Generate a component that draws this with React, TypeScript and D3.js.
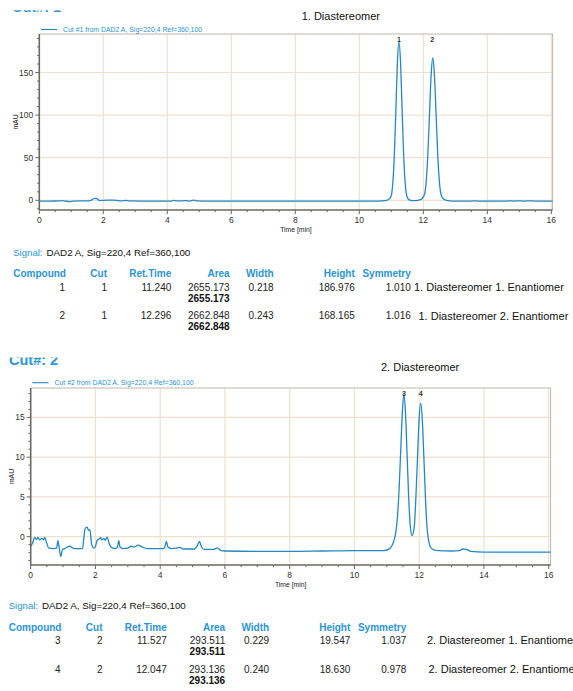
import * as d3 from "d3";

// chromatogram traces (time in min, signal in mAU)
const cut1Time = [
  0, 0.3, 0.6, 0.7, 0.8, 0.95, 1.05, 1.3, 1.55, 1.65, 1.72, 1.8, 1.88, 2.0, 2.15, 2.3, 2.42, 2.55, 2.72, 2.8,
  3.2, 3.6, 4.1, 4.2, 4.3, 4.45, 4.6, 4.7, 4.82, 4.95, 5.1, 6, 7, 8, 9, 10, 10.6,
  10.8, 10.9, 10.99, 11.04, 11.09, 11.14, 11.19, 11.24, 11.29, 11.34, 11.39, 11.44, 11.49, 11.55, 11.65, 11.75,
  11.85, 11.95, 12.0, 12.046, 12.096, 12.146, 12.196, 12.246, 12.296, 12.346, 12.396, 12.446, 12.496, 12.546,
  12.6, 12.7, 12.85, 13.0, 13.5, 13.6, 13.7, 14.6, 14.7, 14.8, 15.0, 15.1, 15.4, 15.5, 16.04,
];
const cut1Signal = [
  -0.9, -0.9, -0.8, -0.4, -0.9, -1.5, -0.9, -0.7, -0.8, 0.6, 2.3, 2.0, -0.3, 0.0, 0.2, 0.3, 0.0, -0.8, -0.1, -0.8,
  -0.9, -0.9, -0.9, -0.2, -0.8, -0.6, -0.3, -0.9, 0.1, -0.8, -0.9, -0.9, -0.9, -0.9, -0.9, -0.9, -0.9,
  -0.5, 0.6, 4.5, 17, 49, 103, 161, 186, 161, 103, 49, 17, 4.5, 0.8, -0.4, -0.5,
  0.2, 1.6, 4.0, 8.0, 24.8, 57.5, 104, 148, 167, 148, 104, 57.5, 24.8, 8.0,
  2.8, 0.2, -0.7, -0.9, -0.9, -0.6, -0.9, -0.9, -0.6, -0.9, -0.6, -0.9, -0.7, -0.9, -0.9,
];

const cut2Time = [
  0, 0.06, 0.12, 0.18, 0.22, 0.28, 0.34, 0.4, 0.43, 0.5, 0.56, 0.7, 0.8, 0.84, 0.88, 0.93, 0.98, 1.05, 1.2, 1.35,
  1.6, 1.64, 1.68, 1.74, 1.79, 1.83, 1.88, 1.95, 2.0, 2.06, 2.12, 2.16, 2.2, 2.26, 2.3, 2.36, 2.42, 2.48, 2.6, 2.68,
  2.72, 2.76, 2.85, 3.0, 3.1, 3.2, 3.32, 3.45, 3.6, 4.1, 4.15, 4.19, 4.24, 4.35, 4.5, 4.6, 4.72, 5.05, 5.15, 5.21,
  5.28, 5.35, 5.65, 5.76, 5.88, 6.0, 7.0, 8.0, 9.0, 10.0, 10.9,
  11.05, 11.15, 11.22, 11.28, 11.33, 11.38, 11.43, 11.48, 11.527, 11.577, 11.627, 11.677, 11.727, 11.78,
  11.847, 11.897, 11.947, 11.997, 12.047, 12.097, 12.147, 12.197, 12.247, 12.297, 12.347, 12.45, 12.6,
  13.0, 13.25, 13.35, 13.45, 13.6, 14.0, 15.0, 16.06,
];
const cut2Signal = [
  -1.2, -0.8, -0.1, -0.35, -0.1, -0.4, -0.2, -0.4, -0.1, -0.9, -1.45, -1.5, -1.45, -0.5, -1.4, -2.5, -1.6, -1.5, -1.2, -1.5,
  -1.5, -0.2, 1.0, 1.2, 0.8, 0.9, -0.9, -1.45, -1.2, -0.4, -0.3, -0.1, -0.4, -0.2, -0.45, -0.05, -0.8, -1.3, -1.5, -1.3,
  -0.5, -1.3, -1.5, -1.45, -1.2, -1.3, -1.05, -1.3, -1.5, -1.5, -1.2, -0.6, -1.3, -1.5, -1.45, -1.35, -1.55, -1.55, -1.1, -0.6,
  -1.3, -1.6, -1.6, -1.4, -1.75, -1.8, -1.85, -1.85, -1.8, -1.75, -1.75,
  -1.6, -1.2, -0.5, 0.6, 2.5, 6.0, 10.8, 15.6, 17.85, 15.6, 10.3, 4.8, 1.3, 0.15,
  1.2, 4.8, 9.8, 14.7, 16.8, 14.7, 9.8, 4.6, 1.0, -0.6, -1.3, -1.65, -1.75,
  -1.8, -1.75, -1.55, -1.6, -1.85, -1.95, -1.95, -1.95,
];

const cut1Peaks = ["1", "2"];
const cut1PeakTimes = [11.24, 12.28];
const cut2Peaks = ["3", "4"];
const cut2PeakTimes = [11.527, 12.047];

const xTicks = [0, 2, 4, 6, 8, 10, 12, 14, 16];
const cut1YTicks = [0, 50, 100, 150];
const cut2YTicks = [0, 5, 10, 15];

const headers = ["Compound", "Cut", "Ret.Time", "Area", "Width", "Height", "Symmetry"];

const compounds1 = ["1", "2"];
const cuts1 = ["1", "1"];
const retTimes1 = ["11.240", "12.296"];
const areas1 = ["2655.173", "2662.848"];
const widths1 = ["0.218", "0.243"];
const heights1 = ["186.976", "168.165"];
const symmetries1 = ["1.010", "1.016"];
const descriptions1 = ["1. Diastereomer 1. Enantiomer", "1. Diastereomer 2. Enantiomer"];

const compounds2 = ["3", "4"];
const cuts2 = ["2", "2"];
const retTimes2 = ["11.527", "12.047"];
const areas2 = ["293.511", "293.136"];
const widths2 = ["0.229", "0.240"];
const heights2 = ["19.547", "18.630"];
const symmetries2 = ["1.037", "0.978"];
const descriptions2 = ["2. Diastereomer 1. Enantiomer", "2. Diastereomer 2. Enantiomer"];

const FONT = "Liberation Sans, Arial, sans-serif";
const BLUE = "#2b95d6";
const TRACE = "#2389c2";
const GRID = "#f0e1cf";
const AXIS = "#6e675f";
const FRAME = "#bdb7b0";

type ChromProps = {
  times: number[];
  signal: number[];
  xRange: [number, number];
  xMax: number;
  yDomain: [number, number];
  yRange: [number, number];
  yTicks: number[];
  yMinor: number;
  peaks: string[];
  peakTimes: number[];
  legend: string;
  legendY: number;
  legendX: number;
  mauX: number;
};

function Chromatogram(p: ChromProps) {
  const x = d3.scaleLinear().domain([0, p.xMax]).range(p.xRange);
  const y = d3.scaleLinear().domain(p.yDomain).range(p.yRange);
  const [x0, x1] = p.xRange;
  const [yb, yt] = p.yRange;
  const pts = p.times.map((t, i) => [t, p.signal[i]] as [number, number]);
  const line = d3
    .line<[number, number]>()
    .x((d) => x(d[0]))
    .y((d) => y(d[1]))
    .curve(d3.curveMonotoneX);

  const xMinor = d3.range(0, p.xMax, 0.5);
  const yMinor = d3.range(Math.ceil(p.yDomain[0] / p.yMinor) * p.yMinor, p.yDomain[1], p.yMinor);

  return (
    <g fontFamily={FONT}>
      {/* gridlines */}
      {xTicks.filter((t) => t > 0).map((t) => (
        <line key={"gx" + t} x1={x(t)} x2={x(t)} y1={yt} y2={yb} stroke={GRID} strokeWidth={1.2} />
      ))}
      {p.yTicks.map((t) => (
        <line key={"gy" + t} x1={x0} x2={x1} y1={y(t)} y2={y(t)} stroke={GRID} strokeWidth={1.2} />
      ))}
      {/* frame */}
      <line x1={x0} x2={x1} y1={yt} y2={yt} stroke={FRAME} strokeWidth={1} />
      <line x1={x1} x2={x1} y1={yt} y2={yb} stroke={FRAME} strokeWidth={1} />
      {/* trace */}
      <path d={line(pts) ?? ""} fill="none" stroke={TRACE} strokeWidth={1.3} strokeLinejoin="round" />
      {/* axes */}
      <line x1={x0} x2={x0} y1={yt} y2={yb} stroke={AXIS} strokeWidth={1.6} />
      <line x1={x0} x2={x1} y1={yb} y2={yb} stroke={AXIS} strokeWidth={1.6} />
      {xMinor.map((t) => (
        <line key={"mx" + t} x1={x(t)} x2={x(t)} y1={yb} y2={yb + (t % 2 === 0 ? 4 : 2.2)} stroke={AXIS} strokeWidth={1} />
      ))}
      {yMinor.map((t) => (
        <line key={"my" + t} x1={x0 - (p.yTicks.includes(t) ? 4 : 2.2)} x2={x0} y1={y(t)} y2={y(t)} stroke={AXIS} strokeWidth={1} />
      ))}
      {xTicks.map((t) => (
        <text key={"tx" + t} x={x(t)} y={yb + 13} fontSize={8.5} textAnchor="middle" fill="#333">
          {t}
        </text>
      ))}
      {p.yTicks.map((t) => (
        <text key={"ty" + t} x={x0 - 6} y={y(t) + 3} fontSize={8.5} textAnchor="end" fill="#333">
          {t}
        </text>
      ))}
      <text x={(x0 + x1) / 2} y={yb + 21.5} fontSize={6.8} textAnchor="middle" fill="#222">
        Time [min]
      </text>
      <text
        transform={`translate(${p.mauX},${(yt + yb) / 2}) rotate(-90)`}
        fontSize={6.8}
        textAnchor="middle"
        fill="#222"
      >
        mAU
      </text>
      {/* peak labels */}
      {p.peaks.map((lab, i) => (
        <text key={"pk" + lab} x={x(p.peakTimes[i])} y={yt + 8} fontSize={7} fontWeight="bold" textAnchor="middle" fill="#333">
          {lab}
        </text>
      ))}
      {/* legend */}
      <line x1={p.legendX} x2={p.legendX + 16} y1={p.legendY} y2={p.legendY} stroke={TRACE} strokeWidth={1.1} />
      <text x={p.legendX + 22} y={p.legendY + 2.4} fontSize={6.9} fill={BLUE}>
        {p.legend}
      </text>
    </g>
  );
}

type TableProps = {
  dx: number;
  top: number;
  compounds: string[];
  cuts: string[];
  retTimes: string[];
  areas: string[];
  widths: string[];
  heights: string[];
  symmetries: string[];
  descriptions: string[];
  descX: number[];
};

// right edges of the table columns
const colRight = [65, 107, 171.3, 229.7, 273.6, 354.8, 410.8];

function ResultTable(t: TableProps) {
  const rowY = [t.top + 38.4, t.top + 66.9];
  return (
    <g fontFamily={FONT} fontSize={10}>
      <text x={13.2 + t.dx} y={t.top + 3.7} fill={BLUE} fontSize={9.6}>
        Signal:
      </text>
      <text x={46.5 + t.dx} y={t.top + 3.7} fill="#111" fontSize={9.8}>
        DAD2 A, Sig=220,4 Ref=360,100
      </text>
      {headers.map((h, i) => (
        <text
          key={h}
          x={i === 0 ? 13.2 + t.dx : colRight[i] + t.dx}
          y={t.top + 25}
          fill={BLUE}
          fontWeight="bold"
          textAnchor={i === 0 ? "start" : "end"}
        >
          {h}
        </text>
      ))}
      {t.compounds.map((c, r) => {
        const vals = [c, t.cuts[r], t.retTimes[r], t.areas[r], t.widths[r], t.heights[r], t.symmetries[r]];
        return (
          <g key={"row" + c}>
            {vals.map((v, i) => (
              <text key={i} x={colRight[i] + t.dx} y={rowY[r]} fill="#222" textAnchor="end">
                {v}
              </text>
            ))}
            <text x={colRight[3] + t.dx} y={rowY[r] + 11} fill="#111" fontWeight="bold" textAnchor="end">
              {t.areas[r]}
            </text>
            <text x={t.descX[r]} y={rowY[r] + 0.3} fill="#111" fontSize={11}>
              {t.descriptions[r]}
            </text>
          </g>
        );
      })}
    </g>
  );
}

export default function App() {
  return (
    <div style={{ position: "absolute", left: 0, top: 0 }}>
      <svg width={573} height={691} viewBox="0 0 573 691" style={{ display: "block", background: "#fff" }}>
        <defs>
          <clipPath id="cutClip1">
            <rect x={0} y={10.2} width={120} height={2.6} />
          </clipPath>
          <clipPath id="cutClip2">
            <rect x={0} y={357.6} width={120} height={10} />
          </clipPath>
        </defs>

        <text x={12} y={12.4} fontFamily={FONT} fontSize={14.5} fontWeight="bold" fill={BLUE} clipPath="url(#cutClip1)">
          Cut#: 1
        </text>
        <text x={301.7} y={20} fontFamily={FONT} fontSize={11} fill="#111">
          1. Diastereomer
        </text>
        <Chromatogram
          times={cut1Time}
          signal={cut1Signal}
          xRange={[39.3, 552.6]}
          xMax={16.04}
          yDomain={[-11.4, 195.2]}
          yRange={[210, 34]}
          yTicks={cut1YTicks}
          yMinor={10}
          peaks={cut1Peaks}
          peakTimes={cut1PeakTimes}
          legend="Cut #1 from DAD2 A, Sig=220,4 Ref=360,100"
          legendX={41}
          legendY={29.5}
          mauX={17.5}
        />
        <ResultTable
          dx={0}
          top={252.3}
          compounds={compounds1}
          cuts={cuts1}
          retTimes={retTimes1}
          areas={areas1}
          widths={widths1}
          heights={heights1}
          symmetries={symmetries1}
          descriptions={descriptions1}
          descX={[414, 418.5]}
        />

        <text x={9} y={365} fontFamily={FONT} fontSize={14.5} fontWeight="bold" fill={BLUE} clipPath="url(#cutClip2)">
          Cut#: 2
        </text>
        <text x={381} y={371} fontFamily={FONT} fontSize={11} fill="#111">
          2. Diastereomer
        </text>
        <Chromatogram
          times={cut2Time}
          signal={cut2Signal}
          xRange={[30.7, 550.6]}
          xMax={16.06}
          yDomain={[-3.56, 18.7]}
          yRange={[565, 388]}
          yTicks={cut2YTicks}
          yMinor={1}
          peaks={cut2Peaks}
          peakTimes={cut2PeakTimes}
          legend="Cut #2 from DAD2 A, Sig=220,4 Ref=360,100"
          legendX={32.5}
          legendY={382.7}
          mauX={14}
        />
        <ResultTable
          dx={-4.5}
          top={605.7}
          compounds={compounds2}
          cuts={cuts2}
          retTimes={retTimes2}
          areas={areas2}
          widths={widths2}
          heights={heights2}
          symmetries={symmetries2}
          descriptions={descriptions2}
          descX={[427, 428.5]}
        />
      </svg>
    </div>
  );
}
